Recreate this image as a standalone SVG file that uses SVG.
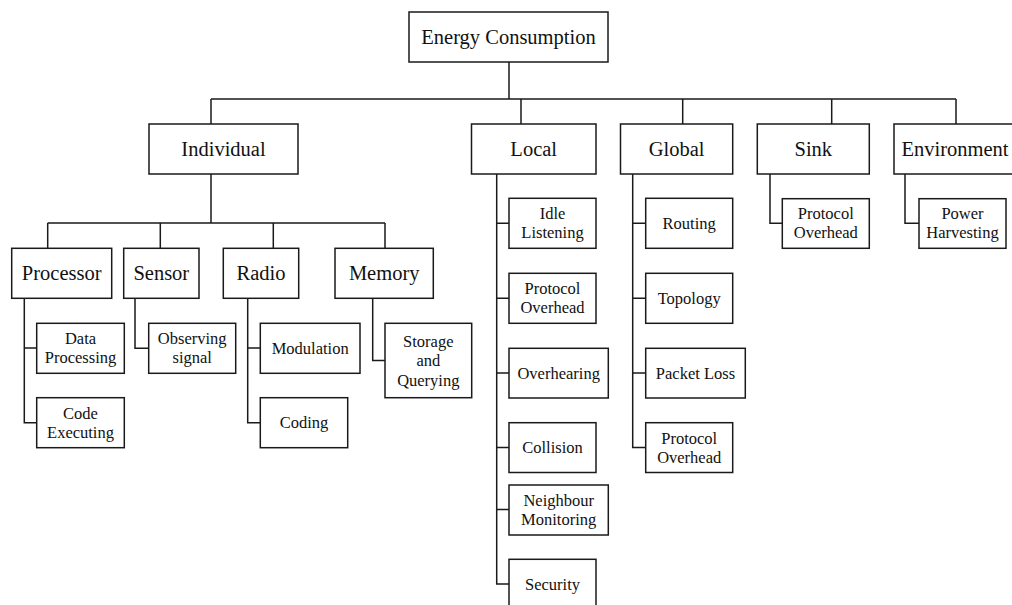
<svg xmlns="http://www.w3.org/2000/svg" width="1012" height="605" viewBox="0 0 1012 605">
<style>
rect{fill:#fff;stroke:#1a1a1a;stroke-width:1.5}
.c path{fill:none;stroke:#1a1a1a;stroke-width:1.5}
text{font-family:"Liberation Serif","Times New Roman",serif;fill:#111;text-anchor:middle}
.m{font-size:20.5px}
.s{font-size:16.5px}
</style>
<rect x="0" y="0" width="1012" height="605" style="fill:#fff;stroke:none"/>
<g class="c" id="connectors">
<path d="M509,62V99M211,99H956M211,99V124M521,99V124M682.7,99V124M831.7,99V124M956,99V124"/>
<path d="M211,174V223M47.7,223H385M47.7,223V248.3M160.3,223V248.3M273.3,223V248.3M385,223V248.3"/>
<path d="M24.3,298.3V422.7H36.7M24.3,348H36.7"/>
<path d="M135,298.3V348.3H148.7"/>
<path d="M247.7,298.3V422.7H260.3M247.7,348H260.3"/>
<path d="M372.7,298.3V360.5H385"/>
<path d="M496.7,173.3V584H509M496.7,223.3H509M496.7,298.3H509M496.7,373H509M496.7,447.5H509M496.7,509.5H509"/>
<path d="M632.7,173.3V447.5H645.7M632.7,223.3H645.7M632.7,298.3H645.7M632.7,373H645.7"/>
<path d="M770,173.3V223.3H782.3"/>
<path d="M905,173.3V223.3H919"/>
</g>
<g id="root"><rect x="409" y="12" width="199" height="50"/><text class="m" x="508.5" y="44">Energy Consumption</text></g>
<g id="individual"><rect x="149" y="124" width="149" height="50"/><text class="m" x="223.5" y="156">Individual</text></g>
<g id="local"><rect x="471.5" y="124" width="124.5" height="50"/><text class="m" x="533.7" y="156">Local</text></g>
<g id="global"><rect x="620.5" y="124" width="112.2" height="50"/><text class="m" x="676.6" y="156">Global</text></g>
<g id="sink"><rect x="757.3" y="124" width="112" height="50"/><text class="m" x="813.3" y="156">Sink</text></g>
<g id="environment"><rect x="894" y="124" width="122" height="50"/><text class="m" x="955" y="156">Environment</text></g>
<g id="processor"><rect x="11.7" y="248.3" width="100" height="50"/><text class="m" x="61.7" y="280">Processor</text></g>
<g id="sensor"><rect x="123.7" y="248.3" width="75.3" height="50"/><text class="m" x="161.3" y="280">Sensor</text></g>
<g id="radio"><rect x="223.3" y="248.3" width="75.4" height="50"/><text class="m" x="261" y="280">Radio</text></g>
<g id="memory"><rect x="335" y="248.3" width="98.3" height="50"/><text class="m" x="384.2" y="280">Memory</text></g>
<g id="data-processing"><rect x="36.7" y="323.3" width="87.6" height="50"/><text class="s" x="80.5" y="344">Data</text><text class="s" x="80.5" y="363">Processing</text></g>
<g id="code-executing"><rect x="36.7" y="397.7" width="87.6" height="50"/><text class="s" x="80.5" y="418.5">Code</text><text class="s" x="80.5" y="437.5">Executing</text></g>
<g id="observing-signal"><rect x="148.7" y="323.3" width="87" height="50"/><text class="s" x="192.2" y="344">Observing</text><text class="s" x="192.2" y="363">signal</text></g>
<g id="modulation"><rect x="260.3" y="323.3" width="99.7" height="50"/><text class="s" x="310.2" y="353.8">Modulation</text></g>
<g id="coding"><rect x="260.3" y="397.7" width="87.4" height="50"/><text class="s" x="304" y="428.2">Coding</text></g>
<g id="storage"><rect x="385" y="323.3" width="86.7" height="74.4"/><text class="s" x="428.3" y="346.5">Storage</text><text class="s" x="428.3" y="366">and</text><text class="s" x="428.3" y="385.5">Querying</text></g>
<g id="idle-listening"><rect x="509" y="198.3" width="87" height="50"/><text class="s" x="552.5" y="219">Idle</text><text class="s" x="552.5" y="238">Listening</text></g>
<g id="local-protocol-overhead"><rect x="509" y="273.3" width="87" height="50"/><text class="s" x="552.5" y="294">Protocol</text><text class="s" x="552.5" y="313">Overhead</text></g>
<g id="overhearing"><rect x="509" y="348.3" width="99.3" height="49.7"/><text class="s" x="558.7" y="378.7">Overhearing</text></g>
<g id="collision"><rect x="509" y="422.7" width="87" height="49.8"/><text class="s" x="552.5" y="453">Collision</text></g>
<g id="neighbour-monitoring"><rect x="509" y="485" width="99.3" height="50"/><text class="s" x="558.7" y="505.7">Neighbour</text><text class="s" x="558.7" y="524.7">Monitoring</text></g>
<g id="security"><rect x="509" y="559.3" width="87" height="50"/><text class="s" x="552.5" y="589.5">Security</text></g>
<g id="routing"><rect x="645.7" y="198.3" width="87" height="50"/><text class="s" x="689.2" y="228.8">Routing</text></g>
<g id="topology"><rect x="645.7" y="273.3" width="87" height="50"/><text class="s" x="689.2" y="303.8">Topology</text></g>
<g id="packet-loss"><rect x="645.7" y="348.3" width="99.6" height="49.7"/><text class="s" x="695.5" y="378.7">Packet Loss</text></g>
<g id="global-protocol-overhead"><rect x="645.7" y="422.7" width="87" height="49.8"/><text class="s" x="689.2" y="443.5">Protocol</text><text class="s" x="689.2" y="462.5">Overhead</text></g>
<g id="sink-protocol-overhead"><rect x="782.3" y="198.7" width="87" height="49.6"/><text class="s" x="825.8" y="219.3">Protocol</text><text class="s" x="825.8" y="238.3">Overhead</text></g>
<g id="power-harvesting"><rect x="919" y="198.7" width="87" height="49.6"/><text class="s" x="962.5" y="219.3">Power</text><text class="s" x="962.5" y="238.3">Harvesting</text></g>
</svg>
